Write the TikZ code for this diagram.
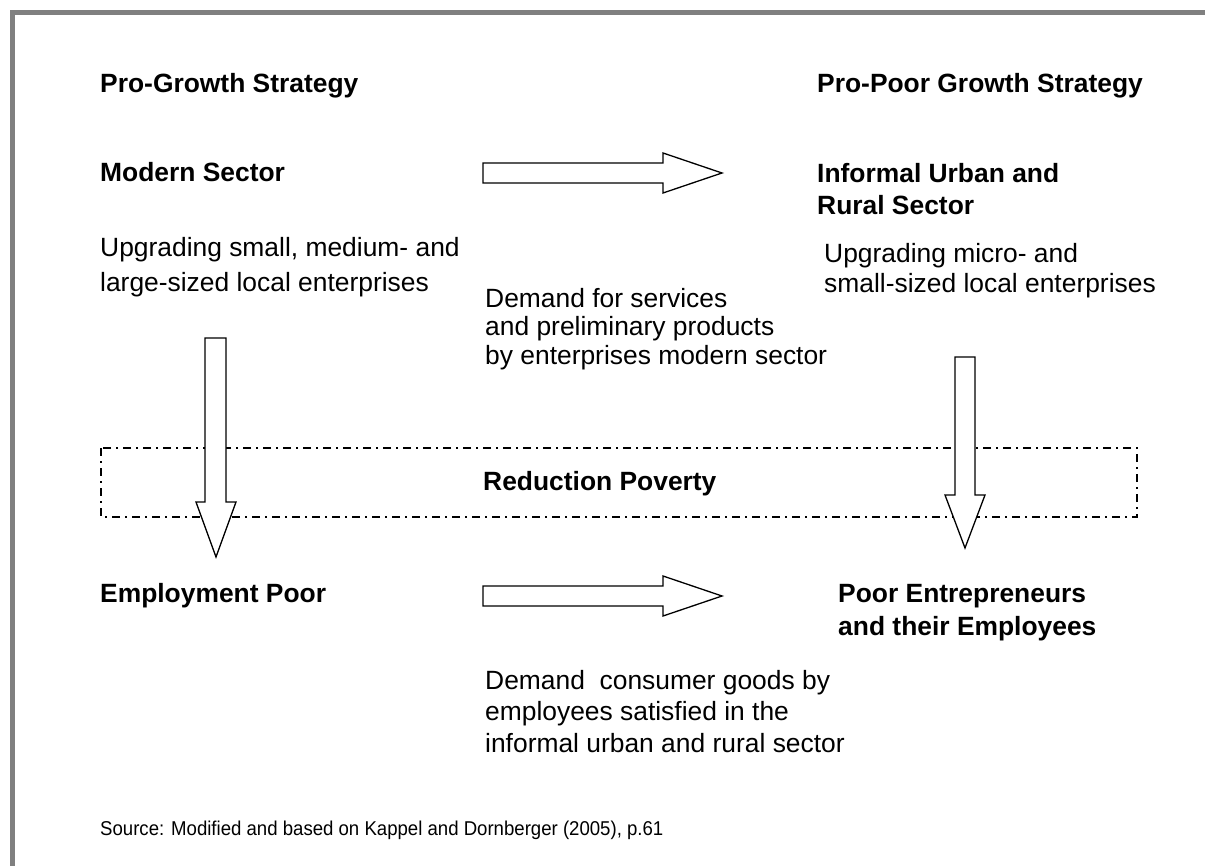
\documentclass[tikz,border=0pt]{standalone}
\usepackage{fontspec}
\setmainfont{Liberation Sans}
\usepackage{tikz}

\tikzset{
  head/.style={anchor=base west, inner sep=0pt, font=\fontsize{26.4}{31}\selectfont\bfseries},
  body/.style={anchor=north west, inner sep=0pt, align=left, font=\fontsize{26.4}{31}\selectfont},
  blockarrow/.style={draw=black, line width=1.3pt, fill=white, line join=miter},
}

\begin{document}
\begin{tikzpicture}[x=1pt, y=-1pt]
        \useasboundingbox (0,0) rectangle (1205,866);
        % frame on top and left
        \fill[gray] (10,10) rectangle (1205,15);
        \fill[gray] (10,10) rectangle (15,866);

        % the two strategies
        \node[head] (progrowth) at (100,93) {Pro-Growth Strategy};
        \node[head] (propoor) at (817,93) {Pro-Poor Growth Strategy};

        \node[head] (modern) at (100,182) {Modern Sector};
        \node[head, align=left, anchor=north west, font=\fontsize{26.4}{32}\selectfont\bfseries]
        (informal) at (817,163) {Informal Urban and\\Rural Sector};

        \node[body, font=\fontsize{26.4}{35}\selectfont] (upgradeleft) at (100,237)
        {Upgrading small, medium- and\\large-sized local enterprises};
        \node[body, font=\fontsize{26.4}{30.5}\selectfont] (upgraderight) at (824,243)
        {Upgrading micro- and\\small-sized local enterprises};

        \node[body, font=\fontsize{26.4}{28.5}\selectfont] (demandtop) at (485,288)
        {Demand for services\\and preliminary products\\by enterprises modern sector};

        % poverty band
        \draw[line width=1.7pt, dash pattern=on 8pt off 5pt on 2pt off 5pt]
        (101,448) rectangle (1137,517);
        \node[head] (poverty) at (483,490) {Reduction Poverty};

        \node[head] (employment) at (100,602) {Employment Poor};
        \node[head, align=left, anchor=north west, font=\fontsize{26.4}{33}\selectfont\bfseries]
        (entrepreneurs) at (838,584) {Poor Entrepreneurs\\and their Employees};

        \node[body, font=\fontsize{26.4}{31.5}\selectfont] (demandbottom) at (485,670)
        {Demand\ \ consumer goods by\\employees satisfied in the\\informal urban and rural sector};

        \node[anchor=base west, inner sep=0pt, font=\fontsize{20}{24}\selectfont] (source) at (100,835)
        {\scalebox{0.93}[1]{Source: Modified and based on Kappel and Dornberger (2005), p.61}};

        % block arrows
        \draw[blockarrow] (483,163) -- (663,163) -- (663,153) -- (722,173)
        -- (663,193) -- (663,183) -- (483,183) -- cycle;
        \draw[blockarrow] (483,586) -- (663,586) -- (663,576) -- (722,596)
        -- (663,616) -- (663,606) -- (483,606) -- cycle;
        \draw[blockarrow] (205,338) -- (226,338) -- (226,502) -- (236,502)
        -- (216,557) -- (196,502) -- (205,502) -- cycle;
        \draw[blockarrow] (955,357) -- (975,357) -- (975,495) -- (985,495)
        -- (965,548) -- (945,495) -- (955,495) -- cycle;
    \end{tikzpicture}
\end{document}
